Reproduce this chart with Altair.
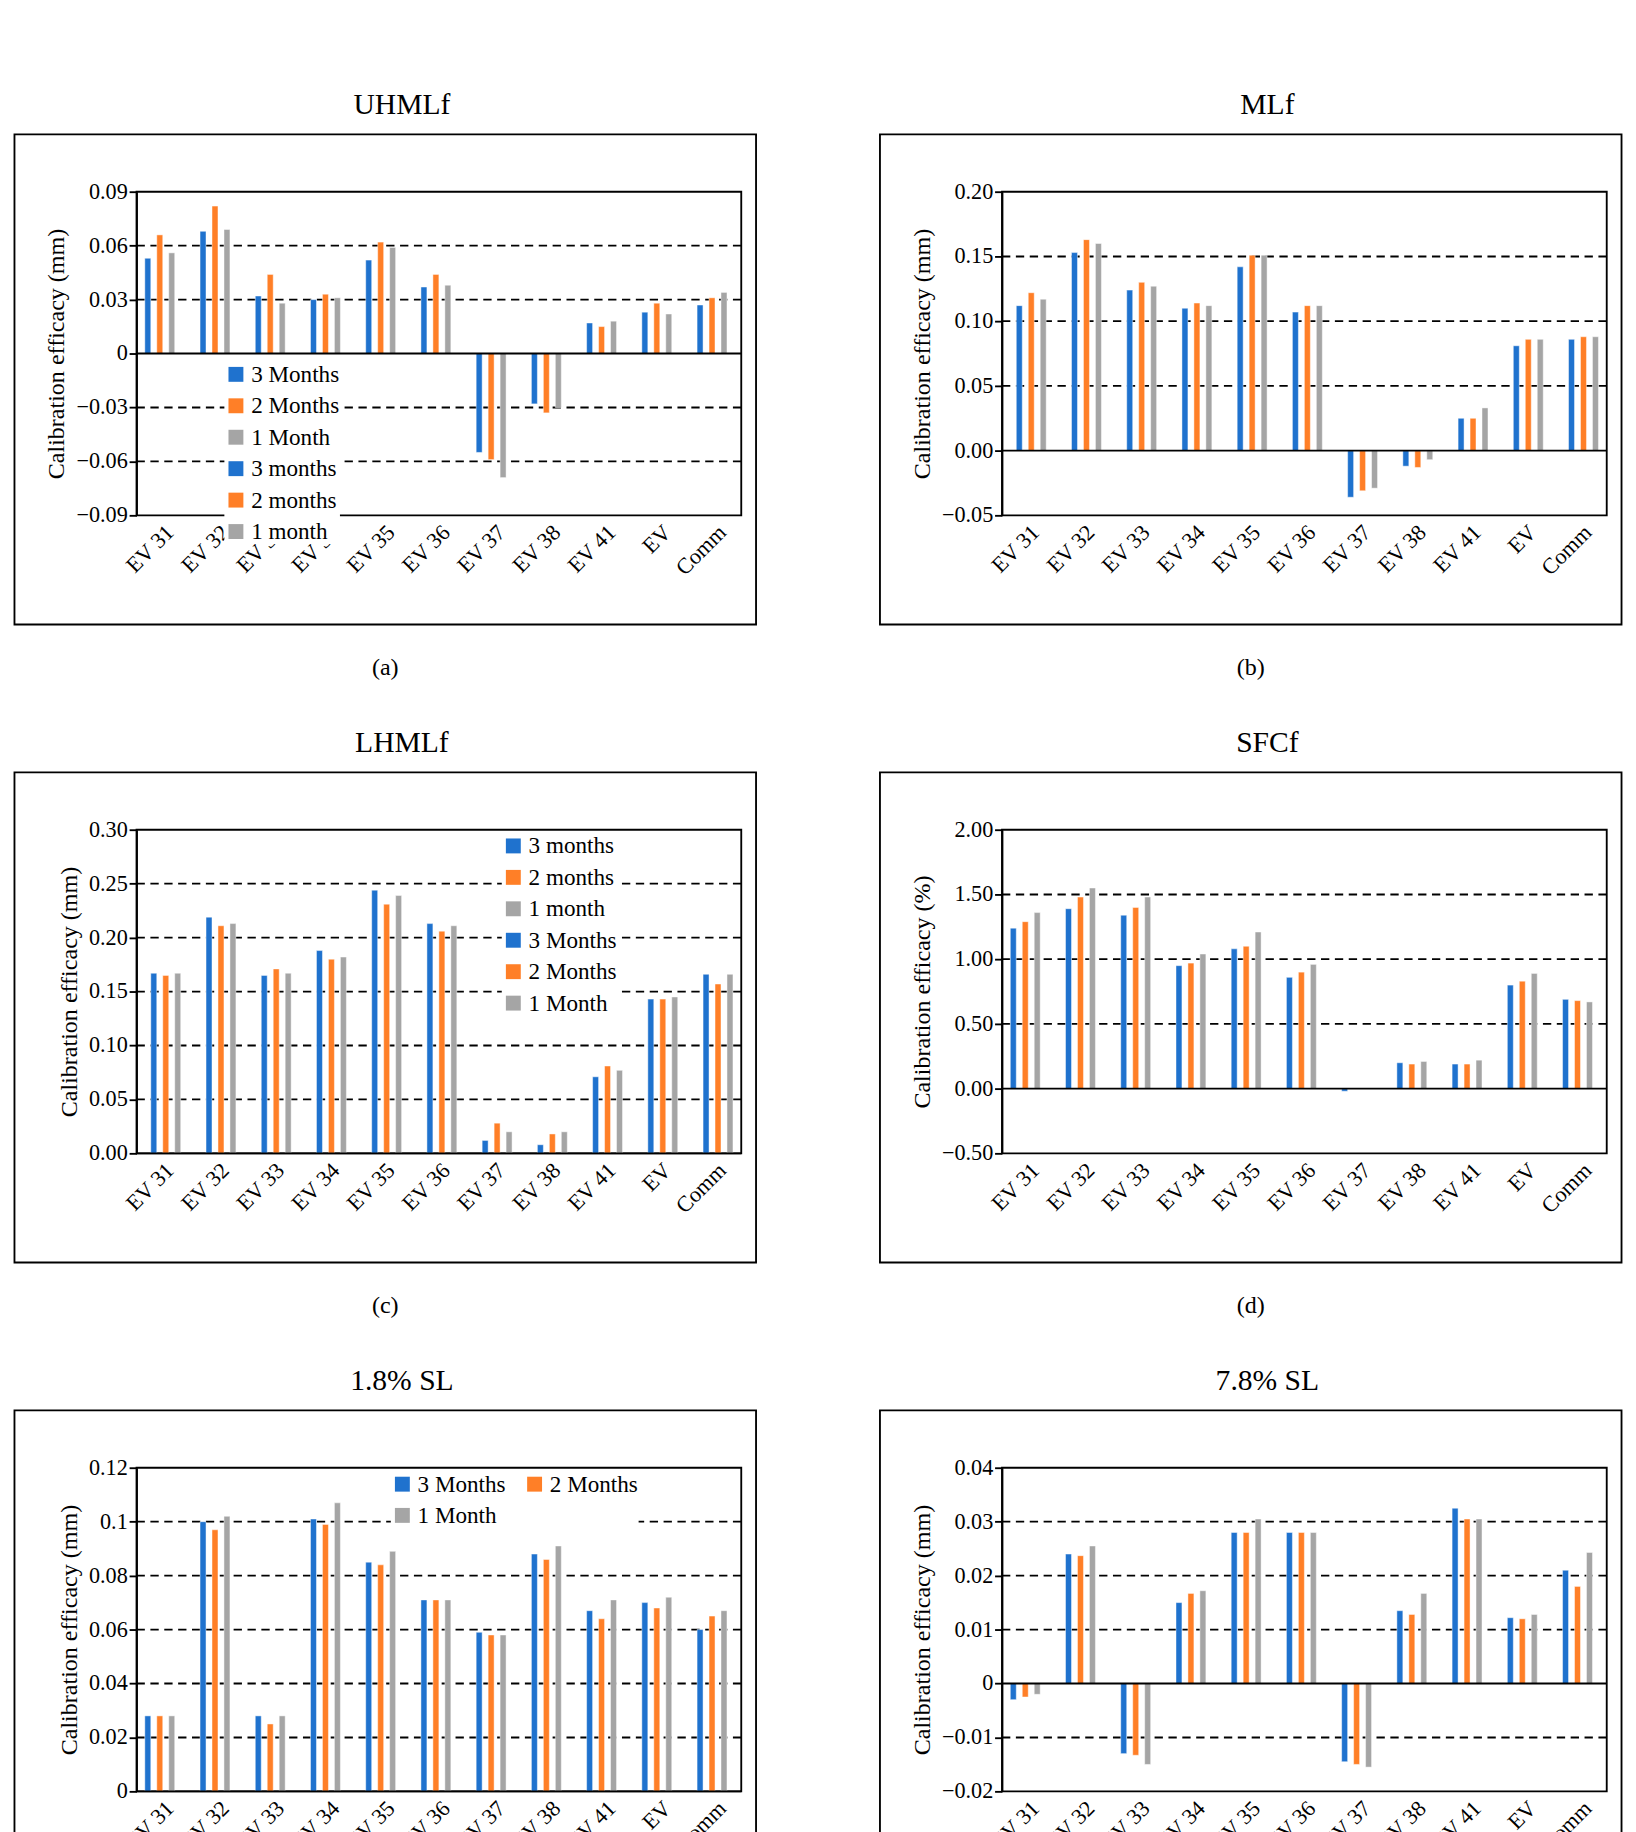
import altair as alt
import pandas as pd

categories = ["EV 31", "EV 32", "EV 33", "EV 34", "EV 35", "EV 36", "EV 37", "EV 38", "EV 41", "EV", "Comm"]

uhml_3 = [0.053, 0.068, 0.032, 0.030, 0.052, 0.037, -0.055, -0.028, 0.017, 0.023, 0.027]
uhml_2 = [0.066, 0.082, 0.044, 0.033, 0.062, 0.044, -0.059, -0.033, 0.015, 0.028, 0.031]
uhml_1 = [0.056, 0.069, 0.028, 0.031, 0.059, 0.038, -0.069, -0.030, 0.018, 0.022, 0.034]

ml_3 = [0.112, 0.153, 0.124, 0.110, 0.142, 0.107, -0.036, -0.012, 0.025, 0.081, 0.086]
ml_2 = [0.122, 0.163, 0.130, 0.114, 0.151, 0.112, -0.031, -0.013, 0.025, 0.086, 0.088]
ml_1 = [0.117, 0.160, 0.127, 0.112, 0.151, 0.112, -0.029, -0.007, 0.033, 0.086, 0.088]

lhml_3 = [0.167, 0.219, 0.165, 0.188, 0.244, 0.213, 0.012, 0.008, 0.071, 0.143, 0.166]
lhml_2 = [0.165, 0.211, 0.171, 0.180, 0.231, 0.206, 0.028, 0.018, 0.081, 0.143, 0.157]
lhml_1 = [0.167, 0.213, 0.167, 0.182, 0.239, 0.211, 0.020, 0.020, 0.077, 0.145, 0.166]

sfc_3 = [1.24, 1.39, 1.34, 0.95, 1.08, 0.86, -0.02, 0.20, 0.19, 0.80, 0.69]
sfc_2 = [1.29, 1.48, 1.40, 0.97, 1.10, 0.90, 0.0, 0.19, 0.19, 0.83, 0.68]
sfc_1 = [1.36, 1.55, 1.48, 1.04, 1.21, 0.96, 0.0, 0.21, 0.22, 0.89, 0.67]

sl18_3 = [0.028, 0.100, 0.028, 0.101, 0.085, 0.071, 0.059, 0.088, 0.067, 0.070, 0.060]
sl18_2 = [0.028, 0.097, 0.025, 0.099, 0.084, 0.071, 0.058, 0.086, 0.064, 0.068, 0.065]
sl18_1 = [0.028, 0.102, 0.028, 0.107, 0.089, 0.071, 0.058, 0.091, 0.071, 0.072, 0.067]

sl78_3 = [-0.003, 0.024, -0.013, 0.015, 0.028, 0.028, -0.0145, 0.0135, 0.0325, 0.0122, 0.021]
sl78_2 = [-0.0025, 0.0237, -0.0133, 0.0167, 0.028, 0.028, -0.015, 0.0128, 0.0305, 0.012, 0.018]
sl78_1 = [-0.002, 0.0255, -0.015, 0.0172, 0.0305, 0.028, -0.0155, 0.0167, 0.0305, 0.0128, 0.0243]

COLORS = ["#1F72CE", "#FF7F27", "#A5A5A5"]
FONT = "Liberation Serif"
W, H = 654, 350


def panel(title, caption, series, names, domain, ticks, grid_vals, fmt, ytitle, legend):
    rows = []
    for name, vals in zip(names, series):
        for c, v in zip(categories, vals):
            rows.append({"cat": c, "series": name, "value": v})
    df = pd.DataFrame(rows)

    bars = alt.Chart(df).mark_bar(stroke="white", strokeWidth=0.5).encode(
        x=alt.X("cat:N", sort=categories, title=None,
                scale=alt.Scale(paddingInner=0.35, paddingOuter=0.15),
                axis=alt.Axis(labelAngle=-45, labelFontSize=24, labelFont=FONT,
                              labelColor="black", domain=False, ticks=False,
                              labelPadding=6, labelAlign="right", labelBaseline="top")),
        xOffset=alt.XOffset("series:N", sort=names),
        y=alt.Y("value:Q", title=ytitle,
                scale=alt.Scale(domain=domain, nice=False, zero=False),
                axis=alt.Axis(values=ticks, format=fmt, grid=False, labelFontSize=24,
                              labelFont=FONT, labelColor="black", titleFont=FONT,
                              titleFontSize=26, titleFontWeight="normal",
                              titleColor="black", domainColor="black", tickColor="black",
                              domainWidth=2, tickWidth=2, tickSize=8, titlePadding=8)),
        color=alt.Color("series:N", sort=names, scale=alt.Scale(domain=names, range=COLORS),
                        legend=alt.Legend(title=None, orient="none", symbolType="square",
                                          symbolSize=260, symbolStrokeWidth=0,
                                          labelFont=FONT, labelFontSize=25,
                                          labelColor="black", **legend)),
    )

    grid = alt.Chart(pd.DataFrame({"g": grid_vals})).mark_rule(
        color="black", strokeDash=[9, 6], strokeWidth=2).encode(y="g:Q")
    zero = alt.Chart(pd.DataFrame({"z": [0]})).mark_rule(
        color="black", strokeWidth=2).encode(y="z:Q")
    frame = alt.Chart(pd.DataFrame({"f": [0]})).mark_rect(
        fill=None, stroke="black", strokeWidth=2).encode(
        x=alt.value(-132), x2=alt.value(W + 16), y=alt.value(-62), y2=alt.value(H + 118))
    cap = alt.Chart(pd.DataFrame({"t": [caption]})).mark_text(
        font=FONT, fontSize=26, color="black").encode(
        text="t:N", x=alt.value(W / 2 - 58), y=alt.value(H + 165))

    return alt.layer(grid, bars, zero, frame, cap).properties(
        width=W, height=H,
        title=alt.Title(title, font=FONT, fontSize=32, fontWeight="normal",
                        color="black", offset=14, dx=-40),
    )


M = ["3 Months", "2 Months", "1 Month"]
m = ["3 months", "2 months", "1 month"]

a = panel("UHMLf", "(a)", [uhml_3, uhml_2, uhml_1], M, [-0.09, 0.09],
          [-0.09, -0.06, -0.03, 0, 0.03, 0.06, 0.09], [-0.06, -0.03, 0.03, 0.06],
          ".2~f", "Calibration efficacy (mm)",
          dict(legendX=95, legendY=185, direction="vertical", fillColor="white",
               rowPadding=8))
b = panel("MLf", "(b)", [ml_3, ml_2, ml_1], m, [-0.05, 0.20],
          [-0.05, 0, 0.05, 0.10, 0.15, 0.20], [0.05, 0.10, 0.15], ".2f",
          "Calibration efficacy (mm)",
          dict(legendX=400, legendY=10, direction="vertical", fillColor="white", rowPadding=8))
c = panel("LHMLf", "(c)", [lhml_3, lhml_2, lhml_1], m, [0, 0.30],
          [0, 0.05, 0.10, 0.15, 0.20, 0.25, 0.30], [0.05, 0.10, 0.15, 0.20, 0.25], ".2f",
          "Calibration efficacy (mm)",
          dict(legendX=395, legendY=5, direction="vertical", fillColor="white", rowPadding=8))
d = panel("SFCf", "(d)", [sfc_3, sfc_2, sfc_1], M, [-0.5, 2.0],
          [-0.5, 0, 0.5, 1.0, 1.5, 2.0], [0.5, 1.0, 1.5], ".2f", "Calibration efficacy (%)",
          dict(legendX=95, legendY=10, direction="horizontal", columnPadding=18,
               fillColor="white"))
e = panel("1.8% SL", "(e)", [sl18_3, sl18_2, sl18_1], M, [0, 0.12],
          [0, 0.02, 0.04, 0.06, 0.08, 0.1, 0.12], [0.02, 0.04, 0.06, 0.08, 0.1], ".2~f",
          "Calibration efficacy (mm)",
          dict(legendX=275, legendY=5, direction="horizontal", columns=2,
               columnPadding=18, rowPadding=8, fillColor="white"))
f = panel("7.8% SL", "(f)", [sl78_3, sl78_2, sl78_1], M, [-0.02, 0.04],
          [-0.02, -0.01, 0, 0.01, 0.02, 0.03, 0.04], [-0.01, 0.01, 0.02, 0.03], ".2~f",
          "Calibration efficacy (mm)",
          dict(legendX=95, legendY=5, direction="horizontal", columnPadding=18,
               fillColor="white"))

chart = alt.vconcat(
    alt.hconcat(a, b, spacing=130),
    alt.hconcat(c, d, spacing=130),
    alt.hconcat(e, f, spacing=130),
    spacing=50,
).resolve_scale(color="independent").configure(
    background="white"
).configure_view(stroke="black", strokeWidth=2)

chart.save("out.html", embed_options={"renderer": "svg", "actions": False})
